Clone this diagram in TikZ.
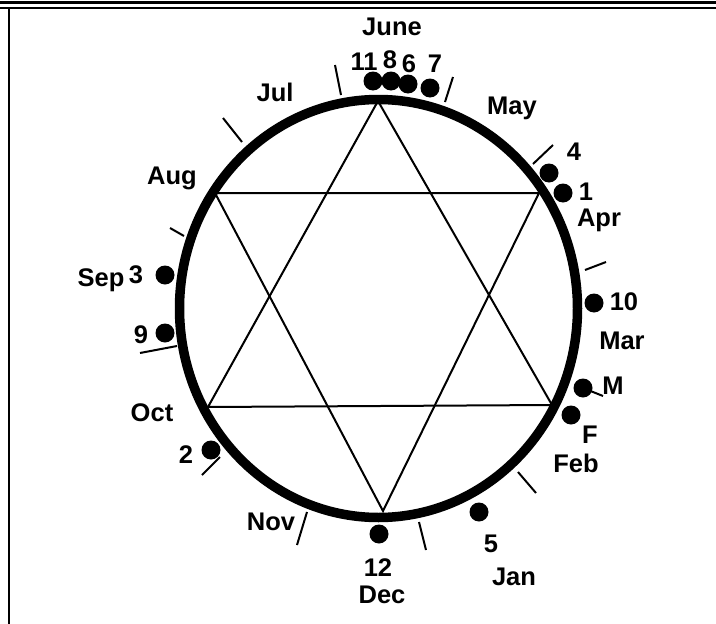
\documentclass[tikz,border=0pt]{standalone}
\usepackage{fontspec}
\setmainfont{Liberation Sans}
\begin{document}
\begin{tikzpicture}[x=1pt,y=-1pt,
  lbl/.style={font=\fontsize{25.5}{28}\selectfont\bfseries, inner sep=0pt, anchor=center},
  dot/.style={circle, fill=black, inner sep=0pt, minimum size=19pt},
  tick/.style={line width=2pt},
  starline/.style={line width=2pt, line join=miter},
  frame/.style={line width=2.6pt}]
\useasboundingbox (0,0) rectangle (716,624);
% frame
\draw[frame] (0,2.5) -- (716,2.5);
\draw[frame] (0,8) -- (716,8);
\draw[frame] (9,8) -- (9,624);
% circle
\coordinate (C) at (378.5,308.5);
\draw[line width=9.5pt] (C) ellipse [x radius=199pt, y radius=209pt];
% star
\coordinate (T) at (378,101);
\coordinate (B) at (383,511);
\coordinate (UL) at (215,193);
\coordinate (UR) at (539,193);
\coordinate (LL) at (208,407);
\coordinate (LR) at (552,405);
\draw[starline] (T) -- (LL) -- (LR) -- cycle;
\draw[starline] (B) -- (UL) -- (UR) -- cycle;
% ticks
\draw[tick] (335,65) -- (341,95);
\draw[tick] (453,77) -- (445,102);
\draw[tick] (223,118) -- (242,142);
\draw[tick] (553,145) -- (533,164);
\draw[tick] (585,270) -- (606,262);
\draw[tick] (170,228) -- (184,236);
\draw[tick] (140,353) -- (177,346);
\draw[tick] (202,475) -- (220,457);
\draw[tick] (297,545) -- (307,512);
\draw[tick] (419,522) -- (426,550);
\draw[tick] (518,472) -- (536,493);
% month labels
\node[lbl] (june) at (392,27) {June};
\node[lbl] (may) at (512,108) {May};
\node[lbl] (jul) at (275,92) {Jul};
\node[lbl] (aug) at (172,178) {Aug};
\node[lbl] (sep) at (101,280) {Sep};
\node[lbl] (oct) at (152,413) {Oct};
\node[lbl] (nov) at (271,522) {Nov};
\node[lbl] (dec) at (382,595) {Dec};
\node[lbl] (jan) at (514,577) {Jan};
\node[lbl] (feb) at (576,463) {Feb};
\node[lbl] (mar) at (622,341) {Mar};
\node[lbl] (apr) at (599,220) {Apr};
% dots and numbers
\node[dot] (d11) at (373,81) {};
\node[dot] (d8) at (391,81) {};
\node[dot] (d6) at (408,84) {};
\node[dot] (d7) at (430,88) {};
\node[lbl] (n11) at (364,62) {11};
\node[lbl] (n8) at (390,60) {8};
\node[lbl] (n6) at (409,64) {6};
\node[lbl] (n7) at (435,64) {7};
\node[dot] (d4) at (549,173) {};
\node[lbl] (n4) at (574,152) {4};
\node[dot] (d1) at (563,193) {};
\node[lbl] (n1) at (586,192) {1};
\node[dot] (d10) at (594,303) {};
\node[lbl] (n10) at (624,302) {10};
\node[dot] (dM) at (583,388) {};
\node[lbl] (nM) at (613,386) {M};
\coordinate (mfoot) at (603,396);
\draw[line width=2pt] (dM.center) -- (mfoot);
\node[dot] (dF) at (571,415) {};
\node[lbl] (nF) at (590,435) {F};
\node[dot] (d5) at (479,512) {};
\node[lbl] (n5) at (491,544) {5};
\node[dot] (d12) at (379,534) {};
\node[lbl] (n12) at (378,568) {12};
\node[dot] (d2) at (211,450) {};
\node[lbl] (n2) at (186,455) {2};
\node[dot] (d9) at (165,333) {};
\node[lbl] (n9) at (141,335) {9};
\node[dot] (d3) at (165,275) {};
\node[lbl] (n3) at (136,275) {3};
\end{tikzpicture}
\end{document}
